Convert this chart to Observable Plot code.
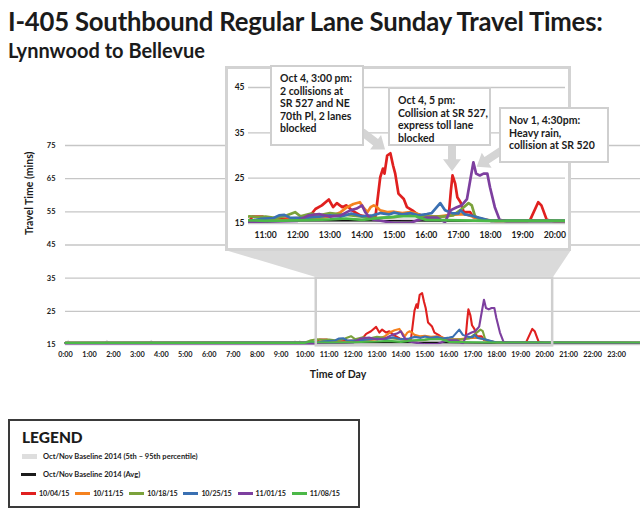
<!DOCTYPE html>
<html>
<head>
<meta charset="utf-8">
<script src="https://cdn.jsdelivr.net/npm/d3@7"></script>
<script src="https://cdn.jsdelivr.net/npm/@observablehq/plot@0.6"></script>
<style>
  html, body { margin: 0; padding: 0; background: #fff; }
  body { font-family: Lato, "Open Sans", sans-serif; color: #1b1b1b; }
  #wrap { position: relative; width: 640px; height: 515px; overflow: hidden; }
  #wrap > * { position: absolute; left: 0; top: 0; }
  .title { font-weight: 700; font-size: 25.7px; line-height: 26px; left: 8px !important; top: 8px !important; white-space: nowrap; letter-spacing: -0.2px; }
  .subtitle { font-weight: 700; font-size: 20px; line-height: 20px; left: 8px !important; top: 40px !important; white-space: nowrap; }
  .callout { box-sizing: border-box; background: #fff; border: 2.5px solid #cfcfcf; padding: 5px 0 0 8px; font-weight: 700; font-size: 10.5px; line-height: 12.5px; white-space: nowrap; color: #1b1b1b; }
  .legend { box-sizing: border-box; border: 2px solid #3a3a3a; background: #fff; }
  .legend .head { position: absolute; left: 12px; top: 8px; font-size: 15.5px; font-weight: 900; line-height: 16px; }
  .legend .row { position: absolute; left: 12px; display: flex; align-items: center; font-size: 7.5px; font-weight: 700; white-space: nowrap; }
  .legend .dates { font-size: 7.2px; letter-spacing: -0.2px; }
  .legend .sw { display: inline-block; width: 15px; margin-right: 3px; }
  .legend .item { display: inline-flex; align-items: center; margin-right: 6px; }
</style>
</head>
<body>
<div id="wrap"></div>
<script>
// ---------- data ----------
const dates = ["10/04/15", "10/11/15", "10/18/15", "10/25/15", "11/01/15", "11/08/15"];
const colors = ["#e0201f", "#f5821f", "#7ba23b", "#3a70b2", "#7d3f9f", "#4cb848"];

const oct04 = [["0:00",15.5],["10:30",15.6],["10:35",16.5],["10:55",16.5],["11:00",16],["11:30",16],["12:00",16.2],["12:20",16.3],["12:33",18.2],["12:45",19],["12:58",20.3],["13:06",18.6],["13:13",19.5],["13:23",18.6],["13:31",19],["13:41",17.9],["13:57",16.8],["14:10",16.5],["14:25",16.5],["14:28",19.3],["14:34",25.2],["14:39",27.1],["14:42",26],["14:47",30],["14:53",30.5],["14:58",27.8],["15:02",26],["15:08",21.6],["15:18",20.4],["15:24",18.6],["15:34",17.9],["15:43",17.1],["15:55",16.6],["16:15",16.5],["16:35",16.6],["16:42",16.8],["16:46",22.3],["16:49",25.6],["16:54",23.8],["16:58",20.8],["17:04",19.7],["17:10",17.5],["17:22",17.5],["17:28",16.4],["17:45",16],["18:00",15.6],["19:10",15.6],["19:14",15.8],["19:29",19.7],["19:35",19],["19:45",15.8],["20:00",15.5],["23:59",15.5]];
const oct11 = [["0:00",15.5],["10:30",15.6],["11:00",15.8],["11:30",15.7],["12:00",16],["12:30",16.2],["13:00",16.5],["13:20",17.5],["13:32",18.6],["13:44",19.3],["13:56",19.7],["14:02",18.6],["14:10",17.5],["14:16",18.6],["14:22",19],["14:28",18.6],["14:34",17.9],["14:47",17.5],["15:00",17.6],["15:15",17.3],["15:30",17.5],["15:42",17.2],["15:55",16.6],["16:20",16.5],["16:40",16.8],["17:00",17],["17:15",17],["17:30",16.4],["17:50",15.8],["18:10",15.6],["23:59",15.5]];
const oct18 = [["0:00",15.5],["10:00",15.6],["10:15",16.3],["10:30",16.6],["10:45",16.4],["11:00",16.5],["11:20",16.2],["11:40",16.8],["11:55",17.5],["12:05",16.6],["12:25",17.2],["12:40",16.8],["13:00",17.3],["13:20",17],["13:40",16.8],["14:00",16.5],["14:30",16.2],["15:00",16.4],["15:20",16.8],["15:40",16.9],["16:00",16.6],["16:30",16.5],["16:50",16.8],["17:06",18.2],["17:19",19.5],["17:25",19],["17:31",16.6],["17:40",16],["17:50",15.7],["23:59",15.5]];
const oct25 = [["0:00",15.5],["10:30",15.6],["10:50",16],["11:15",16.2],["11:25",16.8],["11:35",16.9],["11:45",16.3],["12:10",16.2],["12:40",16.5],["13:00",16.8],["13:20",16.5],["13:40",17.2],["14:00",16.6],["14:20",16.8],["14:35",17.3],["14:50",17],["15:00",17.4],["15:15",17],["15:30",17.3],["15:45",16.8],["16:01",17.1],["16:10",17.3],["16:26",19.5],["16:35",17.9],["16:48",17.3],["17:00",17.2],["17:04",17.9],["17:12",17],["17:25",16.7],["17:48",16],["18:00",15.6],["23:59",15.5]];
const nov01 = [["0:00",15.3],["10:30",15.3],["11:00",15.4],["12:00",15.6],["12:20",16.8],["12:40",17.1],["13:00",16.5],["13:20",16.8],["13:38",17.9],["13:50",18.3],["14:00",19],["14:06",17.5],["14:12",16.6],["14:20",15.9],["14:40",15.5],["15:00",15.1],["15:30",15.1],["15:45",15.8],["16:00",16.3],["16:20",16.3],["16:35",15.3],["16:45",17.9],["16:57",18.6],["17:06",19],["17:16",20.4],["17:22",24.5],["17:28",28.5],["17:33",26],["17:40",25.6],["17:47",26],["17:54",26],["17:59",23],["18:08",18.6],["18:17",15.8],["18:30",15.5],["23:59",15.5]];
const nov08 = [["0:00",15.5],["10:00",15.5],["10:15",15.9],["10:30",15.7],["11:00",15.6],["12:00",15.7],["13:00",15.9],["13:30",16.1],["14:00",15.8],["14:30",16.2],["15:10",16.6],["15:40",16.6],["16:00",15.8],["17:00",15.7],["18:00",15.6],["23:59",15.6]];

const baselineTimes = ["0:00","0:04","0:08","0:12","1:40","1:45","1:50","3:31","3:36","3:41","9:32","9:36","9:40","9:44","9:48","9:52","10:30","12:00","15:00","18:00","20:00","23:59"];
const baselineLow   = [15.2,15.2,15.2,15.2,15.2,15.2,15.2,15.2,15.2,15.2,15.2,15.2,15.2,15.2,15.2,15.2,15.2,15.3,15.3,15.2,15.2,15.2];
const baselineHigh  = [15.7,15.7,16.3,15.7,15.7,16.3,15.7,15.7,16.3,15.7,15.7,16.2,15.7,15.7,16.2,15.7,15.8,16.0,16.1,15.8,15.7,15.7];
const baselineAvg   = [15.5,15.5,15.5,15.5,15.5,15.5,15.5,15.5,15.5,15.5,15.5,15.5,15.5,15.5,15.5,15.5,15.5,15.6,15.6,15.5,15.5,15.5];

const mainYTicks = [15, 25, 35, 45, 55, 65, 75];
const insetYTicks = [15, 25, 35, 45];
const hourTicks = d3.range(0, 24);
const insetHourTicks = d3.range(11, 21);
const zoomWindow = {start: "10:28", end: "20:20", low: 14.6, high: 35};

const callouts = [
  {lines: ["Oct 4, 3:00 pm:", "2 collisions at", "SR 527 and NE", "70th Pl, 2 lanes", "blocked"], tail: ["14:01", 35.1], tip: ["14:44", 31.2]},
  {lines: ["Oct 4, 5 pm:", "Collision at SR 527,", "express toll lane", "blocked"], tail: ["16:49", 33.0], tip: ["16:49", 26.4]},
  {lines: ["Nov 1, 4:30pm:", "Heavy rain,", "collision at SR 520"], tail: ["18:23", 31.1], tip: ["17:35", 27.4]}
];
// callout box layout (pixels)
const calloutBoxes = [
  {left: 270, top: 65, width: 94, height: 81},
  {left: 388, top: 87, width: 103, height: 59},
  {left: 499, top: 107, width: 110, height: 56}
];

// ---------- helpers ----------
const hrs = s => { const [h, m] = s.split(":").map(Number); return h + m / 60; };
const seriesList = [oct04, oct11, oct18, oct25, nov01, nov08];
const rows = seriesList.flatMap((pts, i) => pts.map(([tm, v]) => ({date: dates[i], time: hrs(tm), value: v})));
const baseline = baselineTimes.map((tm, i) => ({time: hrs(tm), low: baselineLow[i], high: baselineHigh[i], avg: baselineAvg[i]}));
const win = {x1: hrs(zoomWindow.start), x2: hrs(zoomWindow.end), y1: zoomWindow.low, y2: zoomWindow.high};
const color = {domain: dates, range: colors};
const font = "Lato, 'Open Sans', sans-serif";

const wrap = document.getElementById("wrap");

// ---------- main chart ----------
const main = Plot.plot({
  width: 640, height: 400,
  marginLeft: 65, marginRight: 0, marginTop: 145, marginBottom: 56,
  x: {domain: [0, 24]},
  y: {domain: [15, 75]},
  color,
  style: {background: "transparent", fontFamily: font, color: "#1b1b1b", overflow: "visible"},
  marks: [
    Plot.ruleY(mainYTicks, {stroke: "#c6c6c6", strokeWidth: 1.4}),
    Plot.areaY(baseline, {x: "time", y1: "low", y2: "high", fill: "#d9d9d9"}),
    Plot.line(baseline, {x: "time", y: "avg", stroke: "#111", strokeWidth: 1.6}),
    Plot.line(rows, {x: "time", y: "value", z: "date", stroke: "date", strokeWidth: 2.1, strokeLinejoin: "round"}),
    Plot.rect([win], {x1: "x1", x2: "x2", y1: "y1", y2: "y2", fill: "none", stroke: "#cfcfcf", strokeWidth: 2.5}),
    Plot.axisY({ticks: mainYTicks, tickSize: 0, tickPadding: 10, fontSize: 7.5, fontWeight: 700, label: null}),
    Plot.axisX({ticks: hourTicks, tickFormat: h => `${h}:00`, tickSize: 0, tickPadding: 7, fontSize: 7.3, fontWeight: 700, label: null}),
    Plot.text(["Travel Time (mins)"], {frameAnchor: "left", rotate: -90, dx: -36, dy: -10, fontSize: 10.5, fontWeight: 700}),
    Plot.text(["Time of Day"], {frameAnchor: "bottom", dy: 33, dx: -15, fontSize: 10.5, fontWeight: 700})
  ]
});
wrap.appendChild(main);

// ---------- inset chart (same data, zoom window, clipped to its frame) ----------
const inset = Plot.plot({
  width: 640, height: 260,
  marginLeft: 248, marginRight: 75, marginTop: 87, marginBottom: 37,
  x: {domain: [win.x1, win.x2]},
  y: {domain: [15, 45]},
  color,
  style: {background: "transparent", fontFamily: font, color: "#1b1b1b", overflow: "visible"},
  marks: [
    Plot.ruleY(insetYTicks, {stroke: "#c6c6c6", strokeWidth: 1.4}),
    Plot.areaY(baseline, {x: "time", y1: "low", y2: "high", fill: "#d9d9d9", clip: true}),
    Plot.line(baseline, {x: "time", y: "avg", stroke: "#111", strokeWidth: 1.6, clip: true}),
    Plot.line(rows, {x: "time", y: "value", z: "date", stroke: "date", strokeWidth: 2.7, strokeLinejoin: "round", clip: true}),
    Plot.axisY({ticks: insetYTicks, tickSize: 0, tickPadding: 4, fontSize: 8.5, fontWeight: 700, label: null}),
    Plot.axisX({ticks: insetHourTicks, tickFormat: h => `${h}:00`, tickSize: 0, tickPadding: 8, fontSize: 8.6, fontWeight: 700, label: null})
  ]
});

// ---------- frame + connector (derived from both charts' scales) ----------
const mx = main.scale("x"), my = main.scale("y");
const ix = inset.scale("x"), iy = inset.scale("y");
const fL = ix.range[0] - 23, fR = ix.range[1] + 6, fT = iy.range[1] - 21, fB = iy.range[0] + 28;
const deco = d3.create("svg").attr("width", 640).attr("height", 400);
deco.append("polygon")
  .attr("points", [[fL, fB - 1], [fR, fB - 1], [mx.apply(win.x2) + 1, my.apply(win.y2) - 1], [mx.apply(win.x1) - 1, my.apply(win.y2) - 1]].map(p => p.join(",")).join(" "))
  .attr("fill", "#dadada");
deco.append("rect")
  .attr("x", fL + 1.5).attr("y", fT + 1.5).attr("width", fR - fL - 3).attr("height", fB - fT - 3)
  .attr("fill", "#fff").attr("stroke", "#d3d3d3").attr("stroke-width", 3);
wrap.appendChild(deco.node());
wrap.appendChild(inset);

// ---------- arrows ----------
const arrows = d3.create("svg").attr("width", 640).attr("height", 400);
for (const c of callouts) {
  const x0 = ix.apply(hrs(c.tail[0])), y0 = iy.apply(c.tail[1]);
  const x1 = ix.apply(hrs(c.tip[0])), y1 = iy.apply(c.tip[1]);
  const len = Math.hypot(x1 - x0, y1 - y0), ux = (x1 - x0) / len, uy = (y1 - y0) / len;
  const nx = -uy, ny = ux, sw = 4, hw = 9, hl = 12;
  const bx = x1 - ux * hl, by = y1 - uy * hl;
  const pts = [
    [x0 + nx * sw, y0 + ny * sw], [bx + nx * sw, by + ny * sw], [bx + nx * hw, by + ny * hw], [x1, y1],
    [bx - nx * hw, by - ny * hw], [bx - nx * sw, by - ny * sw], [x0 - nx * sw, y0 - ny * sw]
  ];
  arrows.append("polygon").attr("points", pts.map(p => p.join(",")).join(" ")).attr("fill", "#d4d4d4");
}
wrap.appendChild(arrows.node());

// ---------- callout boxes ----------
callouts.forEach((c, i) => {
  const b = calloutBoxes[i];
  const div = document.createElement("div");
  div.className = "callout";
  Object.assign(div.style, {left: b.left + "px", top: b.top + "px", width: b.width + "px", height: b.height + "px"});
  div.innerHTML = c.lines.map(l => `<div>${l}</div>`).join("");
  wrap.appendChild(div);
});

// ---------- titles ----------
const t1 = document.createElement("div"); t1.className = "title";
t1.textContent = "I-405 Southbound Regular Lane Sunday Travel Times:";
const t2 = document.createElement("div"); t2.className = "subtitle";
t2.textContent = "Lynnwood to Bellevue";
wrap.appendChild(t1); wrap.appendChild(t2);

// ---------- legend ----------
const lg = document.createElement("div");
lg.className = "legend";
Object.assign(lg.style, {left: "8px", top: "419px", width: "352px", height: "89px"});
let html = `<div class="head">LEGEND</div>`;
html += `<div class="row" style="top:31px"><span class="sw" style="height:5px;background:#dedede;margin-right:6px"></span>Oct/Nov Baseline 2014 (5th – 95th percentile)</div>`;
html += `<div class="row" style="top:49px"><span class="sw" style="height:2.5px;background:#1b1b1b;margin-left:-1px;margin-right:7px"></span>Oct/Nov Baseline 2014 (Avg)</div>`;
html += `<div class="row dates" style="top:68px;left:11px">` + dates.map((d, i) => `<span class="item"><span class="sw" style="height:3px;background:${colors[i]}"></span>${d}</span>`).join("") + `</div>`;
lg.innerHTML = html;
wrap.appendChild(lg);
</script>
</body>
</html>
